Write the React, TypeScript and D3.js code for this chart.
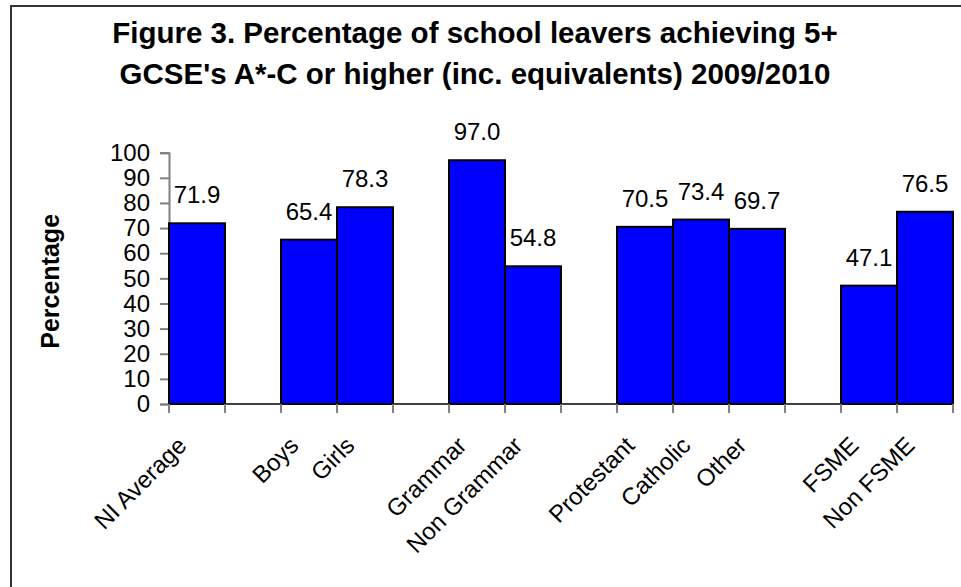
import React, { useEffect, useRef } from 'react';
import * as d3 from 'd3';

// blank entries are the gaps Excel leaves between groups
const categories = [
  'NI Average', '', 'Boys', 'Girls', '', 'Grammar', 'Non Grammar', '',
  'Protestant', 'Catholic', 'Other', '', 'FSME', 'Non FSME',
];
const values: (number | null)[] = [
  71.9, null, 65.4, 78.3, null, 97.0, 54.8, null,
  70.5, 73.4, 69.7, null, 47.1, 76.5,
];
const yTicks = [0, 10, 20, 30, 40, 50, 60, 70, 80, 90, 100];
const titleLines = [
  'Figure 3. Percentage of school leavers achieving 5+',
  "GCSE's A*-C or higher (inc. equivalents) 2009/2010",
];
const yTitle = 'Percentage';

const W = 961;
const H = 587;
const FONT = '"Liberation Sans", Arial, sans-serif';

const Chart: React.FC = () => {
  const svgRef = useRef<SVGSVGElement>(null);

  useEffect(() => {
    if (!svgRef.current) return;
    const svg = d3.select(svgRef.current);
    svg.selectAll('*').remove();

    const left = 169;
    const right = 953;
    const bottom = 404;
    const top = 152.7;

    // outer frame, only the top and left edges fall inside the picture
    svg.append('rect')
      .attr('x', 11).attr('y', 6)
      .attr('width', W + 20).attr('height', H + 20)
      .attr('fill', 'white')
      .attr('stroke', '#333').attr('stroke-width', 2);

    // title
    const title = svg.append('text')
      .attr('text-anchor', 'middle')
      .style('font-family', FONT)
      .style('font-weight', 'bold')
      .style('font-size', '29.5px')
      .attr('fill', '#000');
    titleLines.forEach((line, i) => {
      title.append('tspan').attr('x', 475).attr('y', 43 + i * 41).text(line);
    });

    const x = d3.scaleBand<number>()
      .domain(d3.range(categories.length))
      .range([left, right])
      .padding(0);

    const y = d3.scaleLinear().domain([0, 100]).range([bottom, top]);

    // y axis
    const yAxis = svg.append('g').attr('transform', `translate(${left},0)`)
      .call(d3.axisLeft(y).tickValues(yTicks).tickSize(9).tickPadding(10).tickFormat(d3.format('d')));
    yAxis.select('.domain').attr('stroke', '#808080').attr('stroke-width', 2);
    yAxis.selectAll('.tick line').attr('stroke', '#808080').attr('stroke-width', 2);
    yAxis.selectAll('.tick text')
      .style('font-family', FONT).style('font-size', '24px').attr('fill', '#000');

    // y title
    svg.append('text')
      .attr('transform', `translate(59,${(top + bottom) / 2 + 3}) rotate(-90)`)
      .attr('text-anchor', 'middle')
      .style('font-family', FONT)
      .style('font-weight', 'bold')
      .style('font-size', '25px')
      .text(yTitle);

    // bars
    const data = values.map((v, i) => ({ i, v }));
    svg.append('g').selectAll('rect')
      .data(data.filter(d => d.v !== null))
      .join('rect')
      .attr('x', d => x(d.i)!)
      .attr('y', d => y(d.v as number))
      .attr('width', x.bandwidth())
      .attr('height', d => bottom - y(d.v as number))
      .attr('fill', '#0000FF')
      .attr('stroke', '#000')
      .attr('stroke-width', 2);

    // value labels
    svg.append('g').selectAll('text')
      .data(data.filter(d => d.v !== null))
      .join('text')
      .attr('x', d => x(d.i)! + x.bandwidth() / 2)
      .attr('y', d => y(d.v as number) - 20)
      .attr('text-anchor', 'middle')
      .style('font-family', FONT)
      .style('font-size', '24px')
      .text(d => (d.v as number).toFixed(1));

    // x axis line and category ticks
    svg.append('line')
      .attr('x1', left).attr('x2', right)
      .attr('y1', bottom).attr('y2', bottom)
      .attr('stroke', '#000').attr('stroke-width', 1.5);
    svg.append('g').selectAll('line')
      .data(d3.range(categories.length + 1))
      .join('line')
      .attr('x1', i => left + i * x.step())
      .attr('x2', i => left + i * x.step())
      .attr('y1', bottom).attr('y2', bottom + 9)
      .attr('stroke', '#808080').attr('stroke-width', 2);

    // rotated category labels
    svg.append('g').selectAll('text')
      .data(categories.map((c, i) => ({ c, i })).filter(d => d.c !== ''))
      .join('text')
      .attr('transform', d => `translate(${x(d.i)! + x.bandwidth() / 2 - 9},447) rotate(-45)`)
      .attr('text-anchor', 'end')
      .style('font-family', FONT)
      .style('font-size', '24px')
      .text(d => d.c);
  }, []);

  return <svg ref={svgRef} width={W} height={H} style={{ display: 'block' }} />;
};

export default function App() {
  return (
    <div style={{ position: 'absolute', left: 0, top: 0, background: 'white' }}>
      <Chart />
    </div>
  );
}
